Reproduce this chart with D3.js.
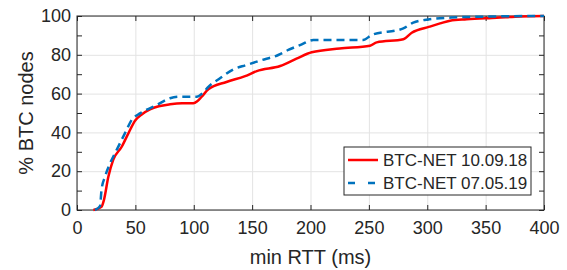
<!DOCTYPE html>
<html>
<head>
<meta charset="utf-8">
<script src="https://cdn.jsdelivr.net/npm/d3@7"></script>
<style>
  body { margin: 0; background: #fff; }
  text { font-family: "Liberation Sans", Arial, sans-serif; fill: #262626; }
  .axis path, .axis line { stroke: #262626; }
  .grid line { stroke: #e3e3e3; stroke-width: 1; }
  .grid path { display: none; }
</style>
</head>
<body>
<script>
// 10.09.18 series (min RTT ms, % nodes)
let redRtt = [14, 21, 23, 26.8, 31, 38.3, 44, 49.7, 56, 62.5, 70, 79.7, 90, 99.6, 103, 106.8, 112.5, 128, 144, 154, 174, 188, 201, 225, 251, 256.7, 279.5, 286.7, 302, 311, 319.5, 333.8, 359.5, 380, 400];
let redPct = [0, 1.7, 5, 17, 25.8, 32.6, 39.5, 46, 49.5, 51.9, 53.5, 54.5, 55, 55, 56, 58.4, 62.2, 66, 69, 71.6, 74.2, 78, 81.3, 83.3, 84.7, 86.4, 88, 91.4, 94.5, 96.2, 97.6, 98.3, 99.1, 99.8, 100];

// 07.05.19 series
let blueRtt = [15.4, 19.7, 21, 24, 28.3, 34, 41, 46.8, 54, 68, 79.7, 88, 102.5, 108, 112.5, 122.5, 134, 145, 156.7, 172.4, 181, 191, 202.4, 245, 252.4, 279.5, 288, 302, 325, 350, 400];
let bluePct = [0, 2, 10.3, 17.2, 24, 31, 39.5, 46.4, 49.8, 54, 57.6, 58.4, 58.4, 60.5, 63.5, 67.9, 72.5, 74.7, 77, 79.9, 82.5, 85, 87.6, 87.6, 90.2, 93.6, 96.6, 98.3, 99.3, 99.7, 100];

let xTicks = [0, 50, 100, 150, 200, 250, 300, 350, 400];
let yTicks = [0, 20, 40, 60, 80, 100];
let yMinorTicks = [10, 30, 50, 70, 90];
let legendLabels = ["BTC-NET 10.09.18", "BTC-NET 07.05.19"];

let width = 567, height = 270;
let plot = { left: 77, right: 544, top: 16, bottom: 210 };

let svg = d3.select("body").append("svg")
    .attr("width", width)
    .attr("height", height);

let x = d3.scaleLinear().domain([0, 400]).range([plot.left, plot.right]);
let y = d3.scaleLinear().domain([0, 100]).range([plot.bottom, plot.top]);

// grid
svg.append("g")
    .attr("class", "grid")
    .attr("transform", "translate(0," + plot.bottom + ")")
    .call(d3.axisBottom(x).tickValues(xTicks).tickSize(-(plot.bottom - plot.top)).tickFormat(""));
svg.append("g")
    .attr("class", "grid")
    .attr("transform", "translate(" + plot.left + ",0)")
    .call(d3.axisLeft(y).tickValues(yTicks).tickSize(-(plot.right - plot.left)).tickFormat(""));

// box
svg.append("rect")
    .attr("x", plot.left).attr("y", plot.top)
    .attr("width", plot.right - plot.left).attr("height", plot.bottom - plot.top)
    .attr("fill", "none").attr("stroke", "#262626").attr("stroke-width", 1);

let allY = yTicks.concat(yMinorTicks).sort((a, b) => a - b);

let xAxis = svg.append("g")
    .attr("class", "axis")
    .attr("transform", "translate(0," + plot.bottom + ")")
    .call(d3.axisBottom(x).tickValues(xTicks).tickSizeInner(-5).tickSizeOuter(0).tickPadding(11));
xAxis.selectAll("text").style("font-size", "18px");

let yAxis = svg.append("g")
    .attr("class", "axis")
    .attr("transform", "translate(" + plot.left + ",0)")
    .call(d3.axisLeft(y).tickValues(allY).tickSizeInner(-5).tickSizeOuter(0).tickPadding(6)
        .tickFormat(d => yTicks.includes(d) ? d : ""));
yAxis.selectAll("text").style("font-size", "18px");

svg.append("g")
    .attr("class", "axis")
    .attr("transform", "translate(0," + plot.top + ")")
    .call(d3.axisTop(x).tickValues(xTicks).tickSizeInner(-5).tickSizeOuter(0).tickFormat(""));
svg.append("g")
    .attr("class", "axis")
    .attr("transform", "translate(" + plot.right + ",0)")
    .call(d3.axisRight(y).tickValues(allY).tickSizeInner(-5).tickSizeOuter(0).tickFormat(""));

svg.selectAll(".axis .domain").remove();

// labels
svg.append("text")
    .attr("x", (plot.left + plot.right) / 2)
    .attr("y", 264)
    .attr("text-anchor", "middle")
    .style("font-size", "20px")
    .text("min RTT (ms)");
svg.append("text")
    .attr("transform", "translate(33," + (plot.top + plot.bottom) / 2 + ") rotate(-90)")
    .attr("text-anchor", "middle")
    .style("font-size", "20px")
    .text("% BTC nodes");

// curves
let line = d3.line()
    .x(d => x(d[0]))
    .y(d => y(d[1]))
    .curve(d3.curveMonotoneX);

let redData = redRtt.map((v, i) => [v, redPct[i]]);
let blueData = blueRtt.map((v, i) => [v, bluePct[i]]);

svg.append("path")
    .datum(redData)
    .attr("d", line)
    .attr("fill", "none")
    .attr("stroke", "#ff0000")
    .attr("stroke-width", 2.5);

svg.append("path")
    .datum(blueData)
    .attr("d", line)
    .attr("fill", "none")
    .attr("stroke", "#0072bd")
    .attr("stroke-width", 2.5)
    .attr("stroke-dasharray", "8,5");

// legend
let legend = svg.append("g");
legend.append("rect")
    .attr("x", 344).attr("y", 147)
    .attr("width", 187).attr("height", 48)
    .attr("fill", "#fff").attr("stroke", "#262626").attr("stroke-width", 1);

let legendColors = ["#ff0000", "#0072bd"];
let legendDash = [null, "7,13"];
legendLabels.forEach((label, i) => {
    let ly = 160 + i * 23;
    legend.append("line")
        .attr("x1", 348).attr("x2", 378)
        .attr("y1", ly).attr("y2", ly)
        .attr("stroke", legendColors[i])
        .attr("stroke-width", 2.5)
        .attr("stroke-dasharray", legendDash[i]);
    legend.append("text")
        .attr("x", 383).attr("y", ly + 6)
        .style("font-size", "17px")
        .text(label);
});
</script>
</body>
</html>
